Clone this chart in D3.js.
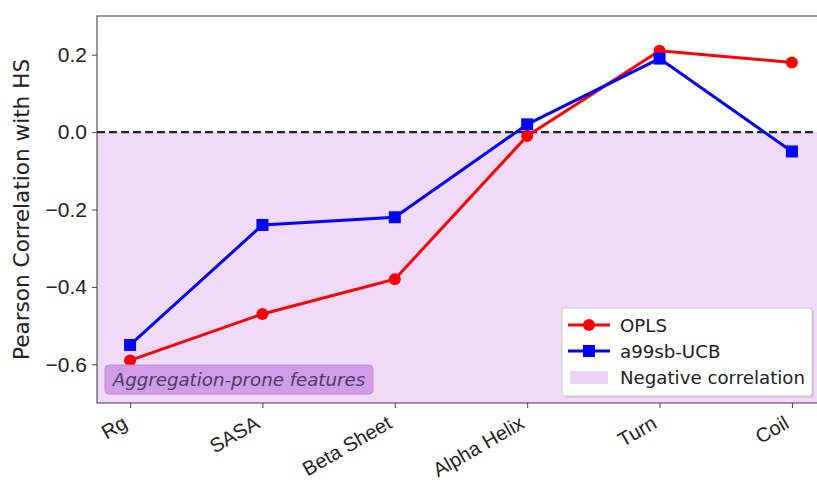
<!DOCTYPE html>
<html>
<head>
<meta charset="utf-8">
<script src="https://cdn.jsdelivr.net/npm/d3@7"></script>
<style>
  body { margin: 0; background: #fff; }
  svg { font-family: "DejaVu Sans", sans-serif; }
</style>
</head>
<body>
<div id="chart"></div>
<script>
const features = ["Rg", "SASA", "Beta Sheet", "Alpha Helix", "Turn", "Coil"];
const oplsValues = [-0.59, -0.47, -0.38, -0.01, 0.21, 0.18];
const ucbValues = [-0.55, -0.24, -0.22, 0.02, 0.19, -0.05];
const yTicks = [0.2, 0.0, -0.2, -0.4, -0.6];

const W = 817, H = 484;
const margin = {top: 16, right: -8, bottom: 81, left: 97};
const width = W - margin.left - margin.right,
      height = H - margin.top - margin.bottom;

const svg = d3.select("#chart").append("svg")
    .attr("width", W).attr("height", H);

const g = svg.append("g").attr("transform", `translate(${margin.left},${margin.top})`);

let x = d3.scaleLinear()
    .domain([-0.25, features.length - 1 + 0.25])
    .range([0, width]);

let y = d3.scaleLinear()
    .domain([-0.7, 0.3])
    .range([height, 0]);

// negative region
g.append("rect")
    .attr("x", 0).attr("y", y(0))
    .attr("width", width).attr("height", height - y(0))
    .attr("fill", "rgb(240,218,247)");

// zero line
g.append("line")
    .attr("x1", 0).attr("x2", width)
    .attr("y1", y(0)).attr("y2", y(0))
    .attr("stroke", "#222").attr("stroke-width", 2.2)
    .attr("stroke-dasharray", "8,4");

// axes
const fmt = d => (d < 0 ? "\u2212" : "") + Math.abs(d).toFixed(1);
let yAxis = g.append("g")
    .call(d3.axisLeft(y).tickValues(yTicks).tickSize(5).tickPadding(5)
        .tickFormat(fmt));
yAxis.select(".domain").remove();
yAxis.selectAll("text").attr("font-size", 21).attr("fill", "#222");
yAxis.selectAll("line").attr("stroke", "#444");

let xAxis = g.append("g")
    .attr("transform", `translate(0,${height})`)
    .call(d3.axisBottom(x).tickValues(d3.range(features.length)).tickSize(5)
        .tickFormat(i => features[i]));
xAxis.select(".domain").remove();
xAxis.selectAll("line").attr("stroke", "#444");
xAxis.selectAll("text")
    .attr("font-size", 20).attr("fill", "#222")
    .style("text-anchor", "end")
    .attr("x", 0).attr("y", 0).attr("dy", 0)
    .attr("transform", "translate(-2,24) rotate(-30)");

// frame
g.append("rect")
    .attr("x", 0).attr("y", 0).attr("width", width).attr("height", height)
    .attr("fill", "none").attr("stroke", "#555").attr("stroke-width", 1.2);

// y label
svg.append("text")
    .attr("transform", `translate(29,${margin.top + y(-0.2)}) rotate(-90)`)
    .attr("text-anchor", "middle")
    .attr("font-size", 21.6).attr("fill", "#222")
    .text("Pearson Correlation with HS");

const line = d3.line().x((d, i) => x(i)).y(d => y(d));

// OPLS
g.append("path").datum(oplsValues)
    .attr("d", line).attr("fill", "none")
    .attr("stroke", "#ff0000").attr("stroke-width", 3);
g.selectAll(".opls").data(oplsValues).enter().append("circle")
    .attr("class", "opls")
    .attr("cx", (d, i) => x(i)).attr("cy", d => y(d))
    .attr("r", 6).attr("fill", "#ff0000");

// a99sb-UCB
g.append("path").datum(ucbValues)
    .attr("d", line).attr("fill", "none")
    .attr("stroke", "#0000ff").attr("stroke-width", 3);
g.selectAll(".ucb").data(ucbValues).enter().append("rect")
    .attr("class", "ucb")
    .attr("x", (d, i) => x(i) - 6).attr("y", d => y(d) - 6)
    .attr("width", 12).attr("height", 12).attr("fill", "#0000ff");

// annotation
let ann = g.append("g").attr("transform", `translate(${x(-0.19)},${y(-0.602)})`);
ann.append("rect")
    .attr("x", 0).attr("y", 0).attr("width", 268).attr("height", 29)
    .attr("rx", 4)
    .attr("fill", "rgb(210,156,232)").attr("stroke", "rgb(192,140,218)");
ann.append("text")
    .attr("x", 134).attr("y", 21)
    .attr("text-anchor", "middle")
    .attr("font-size", 18.2).attr("font-style", "italic")
    .attr("fill", "#4d3d60")
    .text("Aggregation-prone features");

// legend
const legendItems = [
    {label: "OPLS", type: "circle", color: "#ff0000"},
    {label: "a99sb-UCB", type: "square", color: "#0000ff"},
    {label: "Negative correlation", type: "patch", color: "rgb(236,212,246)"}
];
let lg = svg.append("g").attr("transform", "translate(562,308)");
lg.append("rect")
    .attr("x", 2).attr("y", 2).attr("width", 250).attr("height", 88)
    .attr("rx", 3).attr("fill", "#bbb").attr("opacity", 0.5);
lg.append("rect")
    .attr("x", 0).attr("y", 0).attr("width", 250).attr("height", 88)
    .attr("rx", 3).attr("fill", "#fff").attr("stroke", "#ccc");
legendItems.forEach((it, i) => {
    let row = lg.append("g").attr("transform", `translate(0,${17 + i * 26})`);
    if (it.type === "patch") {
        row.append("rect").attr("x", 8).attr("y", -6).attr("width", 38).attr("height", 13)
            .attr("fill", it.color);
    } else {
        row.append("line").attr("x1", 6).attr("x2", 48).attr("y1", 0).attr("y2", 0)
            .attr("stroke", it.color).attr("stroke-width", 3);
        if (it.type === "circle") {
            row.append("circle").attr("cx", 27).attr("cy", 0).attr("r", 6).attr("fill", it.color);
        } else {
            row.append("rect").attr("x", 21).attr("y", -6).attr("width", 12).attr("height", 12)
                .attr("fill", it.color);
        }
    }
    row.append("text").attr("x", 58).attr("y", 6.5)
        .attr("font-size", 18.2).attr("fill", "#222")
        .text(it.label);
});
</script>
</body>
</html>
